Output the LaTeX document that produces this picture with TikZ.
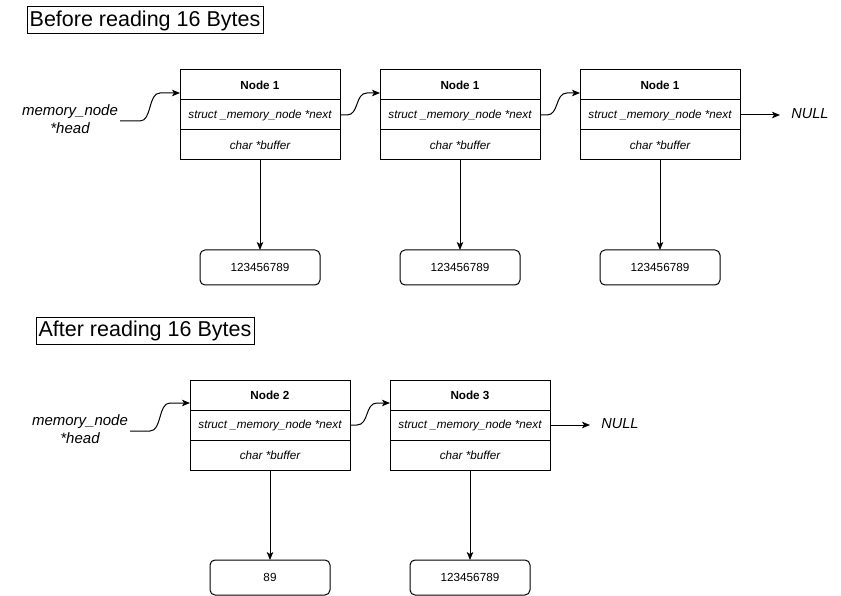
\documentclass[tikz,border=0pt]{standalone}
\usepackage{fontspec}
\setmainfont{Liberation Sans}
\usetikzlibrary{arrows.meta}
\begin{document}
\begin{tikzpicture}[x=1pt,y=-1pt,line width=1pt,
  every node/.style={inner sep=0pt,outer sep=0pt},
  hdr/.style={draw,minimum width=160pt,minimum height=30pt,font=\fontsize{11.7}{14}\selectfont\bfseries},
  fld/.style={draw,minimum width=160pt,minimum height=30pt,font=\fontsize{11.7}{14}\selectfont\itshape},
  valbox/.style={draw,rounded corners=5pt,minimum width=120pt,minimum height=35pt,font=\fontsize{11.7}{14}\selectfont},
  titlebox/.style={draw,font=\fontsize{21.5}{26}\selectfont},
  lbl/.style={font=\fontsize{15}{18}\selectfont\itshape,align=center},
  nul/.style={font=\fontsize{14.5}{17}\selectfont\itshape},
  arr/.style={-{Stealth[length=8pt,width=6.5pt,inset=2pt]}}
]
\useasboundingbox (0,0) rectangle (841,596);
\fill[white] (0,0) rectangle (841,596);

% ---------- Before ----------
\node[titlebox,minimum width=236pt,minimum height=27pt] (t1) at (145,20.5) {Before reading 16 Bytes};

\foreach \i/\x in {1/260,2/460,3/660}{
  \node[hdr] (a\i h) at (\x,85) {Node 1};
  \node[fld] (a\i n) at (\x,115) {struct \_memory\_node *next};
  \node[fld] (a\i b) at (\x,145) {char *buffer};
  \node[valbox] (a\i v) at (\x,267.5) {123456789};
  \draw[arr] (a\i b.south) -- (a\i v.north);
}
\node[lbl] (ahead) at (70,119) {memory\_node\\*head};
\coordinate (ah0) at (120,121);
\coordinate (ah1) at (180,93);
\draw[arr] (ah0) -- (140,121) .. controls (152,121) and (148,93) .. (160,93) -- (ah1);
\coordinate (an1) at (380,93);
\draw[arr] (a1n.east) -- (347,115) .. controls (359,115) and (355,93) .. (367,93) -- (an1);
\coordinate (an2) at (580,93);
\draw[arr] (a2n.east) -- (547,115) .. controls (559,115) and (555,93) .. (567,93) -- (an2);
\node[nul] (anull) at (810,114) {NULL};
\coordinate (anend) at (780,115);
\draw[arr] (a3n.east) -- (anend);

% ---------- After ----------
\node[titlebox,minimum width=218pt,minimum height=27pt] (t2) at (145,331) {After reading 16 Bytes};

\node[hdr] (b1h) at (270,395) {Node 2};
\node[fld] (b1n) at (270,425) {struct \_memory\_node *next};
\node[fld] (b1b) at (270,455) {char *buffer};
\node[valbox] (b1v) at (270,577.5) {89};
\draw[arr] (b1b.south) -- (b1v.north);

\node[hdr] (b2h) at (470,395) {Node 3};
\node[fld] (b2n) at (470,425) {struct \_memory\_node *next};
\node[fld] (b2b) at (470,455) {char *buffer};
\node[valbox] (b2v) at (470,577.5) {123456789};
\draw[arr] (b2b.south) -- (b2v.north);

\node[lbl] (bhead) at (80,429) {memory\_node\\*head};
\coordinate (bh0) at (130,431);
\coordinate (bh1) at (190,403);
\draw[arr] (bh0) -- (150,431) .. controls (162,431) and (158,403) .. (170,403) -- (bh1);
\coordinate (bn1) at (390,403);
\draw[arr] (b1n.east) -- (357,425) .. controls (369,425) and (365,403) .. (377,403) -- (bn1);
\node[nul] (bnull) at (620,424) {NULL};
\coordinate (bnend) at (590,425);
\draw[arr] (b2n.east) -- (bnend);
\end{tikzpicture}
\end{document}
